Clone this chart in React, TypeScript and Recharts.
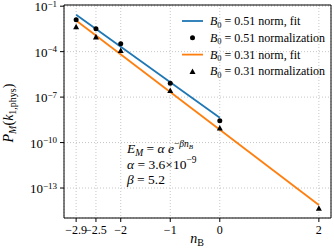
import {
  ComposedChart,
  Line,
  Scatter,
  XAxis,
  YAxis,
  CartesianGrid,
} from "recharts";

// n_B values on the x axis and the values
const xTicks = [-2.9, -2.5, -2, -1, 0, 2];
const yTicks = [1e-1, 1e-4, 1e-7, 1e-10, 1e-13];

const fit051 = [
  { n: -2.9, p: 2.75e-2 },
  { n: 0, p: 4.3e-9 },
];
const fit031 = [
  { n: -2.9, p: 1.15e-2 },
  { n: 2, p: 7.6e-15 },
];
const norm051 = [
  { n: -2.9, p: 1.29e-2 },
  { n: -2.5, p: 3.2e-3 },
  { n: -2, p: 3.3e-4 },
  { n: -1, p: 8.3e-7 },
  { n: 0, p: 2.8e-9 },
];
const norm031 = [
  { n: -2.9, p: 4.4e-3 },
  { n: -2.5, p: 9.5e-4 },
  { n: -2, p: 1.2e-4 },
  { n: -1, p: 2.7e-7 },
  { n: 0, p: 9.3e-10 },
  { n: 2, p: 4.6e-15 },
];

const BLUE = "#1f77b4";
const ORANGE = "#ff7f0e";
const FONT = "'Liberation Serif', 'DejaVu Serif', serif";
const MINUS = "\u2212";

const fmt = (v: number) => (v < 0 ? MINUS + Math.abs(v) : String(v));

const XTick = ({ x, y, payload }: any) => (
  <text x={x} y={y + 10} textAnchor="middle" fontFamily={FONT} fontSize={12} fill="#000">
    {fmt(payload.value)}
  </text>
);

const YTick = ({ x, y, payload }: any) => {
  const e = Math.round(Math.log10(payload.value));
  return (
    <text x={x - 1} y={y + 5} textAnchor="end" fontFamily={FONT} fontSize={13} fill="#000">
      <tspan>10</tspan>
      <tspan dy={-4.5} fontSize={9}>{fmt(e)}</tspan>
    </text>
  );
};

const DotShape = (p: any) => <circle cx={p.cx} cy={p.cy} r={2.5} fill="#000" />;
const TriShape = (p: any) => {
  const s = 3;
  return (
    <polygon
      points={`${p.cx},${p.cy - s} ${p.cx - s},${p.cy + s * 0.85} ${p.cx + s},${p.cy + s * 0.85}`}
      fill="#000"
    />
  );
};

const legendRows = [
  { kind: "line", color: BLUE, b: "0.51", label: " norm, fit" },
  { kind: "dot", color: "#000", b: "0.51", label: " normalization" },
  { kind: "line", color: ORANGE, b: "0.31", label: " norm, fit" },
  { kind: "tri", color: "#000", b: "0.31", label: " normalization" },
];

export default function App() {
  return (
    <div style={{ position: "absolute", left: 0, top: 0, width: 334, height: 250, background: "#fff" }}>
      <ComposedChart width={334} height={250} margin={{ top: 4, right: 2, bottom: 0, left: 0 }}>
        <CartesianGrid stroke="#b8b8b8" strokeDasharray="1 2" strokeWidth={0.8} />
        <XAxis
          dataKey="n"
          type="number"
          domain={[-3.145, 2.245]}
          ticks={xTicks}
          interval={0}
          allowDataOverflow
          height={32}
          tickSize={4}
          tick={<XTick />}
          axisLine={{ stroke: "#000", strokeWidth: 1 }}
          tickLine={{ stroke: "#000" }}
        />
        <XAxis
          xAxisId="top"
          orientation="top"
          type="number"
          domain={[-3.145, 2.245]}
          height={1}
          tick={false}
          tickLine={false}
          axisLine={{ stroke: "#000", strokeWidth: 1 }}
        />
        <YAxis
          dataKey="p"
          scale="log"
          domain={[1.05e-15, 1.2e-1]}
          ticks={yTicks}
          interval={0}
          allowDataOverflow
          width={64}
          tickSize={4}
          tick={<YTick />}
          axisLine={{ stroke: "#000", strokeWidth: 1 }}
          tickLine={{ stroke: "#000" }}
        />
        <YAxis
          yAxisId="right"
          orientation="right"
          scale="log"
          domain={[1.05e-15, 1.2e-1]}
          width={1}
          tick={false}
          tickLine={false}
          axisLine={{ stroke: "#000", strokeWidth: 1 }}
        />
        <Line data={fit051} dataKey="p" stroke={BLUE} strokeWidth={1.8} dot={false} isAnimationActive={false} />
        <Scatter data={norm051} dataKey="p" shape={<DotShape />} isAnimationActive={false} />
        <Line data={fit031} dataKey="p" stroke={ORANGE} strokeWidth={1.8} dot={false} isAnimationActive={false} />
        <Scatter data={norm031} dataKey="p" shape={<TriShape />} isAnimationActive={false} />
      </ComposedChart>

      {/* labels, legend and fit text */}
      <svg
        width={334}
        height={250}
        style={{ position: "absolute", left: 0, top: 0, pointerEvents: "none" }}
        fontFamily={FONT}
      >
        <text transform="rotate(-90 13 113)" x={13} y={113} textAnchor="middle" fontSize={14}>
          <tspan fontStyle="italic">P</tspan>
          <tspan dy={3} fontSize={10} fontStyle="italic">M</tspan>
          <tspan dy={-3}>(</tspan>
          <tspan fontStyle="italic">k</tspan>
          <tspan dy={3} fontSize={10}>1,phys</tspan>
          <tspan dy={-3}>)</tspan>
        </text>

        <text x={197} y={243} textAnchor="middle" fontSize={14}>
          <tspan fontStyle="italic">n</tspan>
          <tspan dy={3} fontSize={10}>B</tspan>
        </text>

        {legendRows.map((r, i) => {
          const cy = 21 + i * 16.8;
          return (
            <g key={i}>
              {r.kind === "line" && <line x1={182} x2={203} y1={cy} y2={cy} stroke={r.color} strokeWidth={1.8} />}
              {r.kind === "dot" && <circle cx={192.5} cy={cy} r={2.5} fill="#000" />}
              {r.kind === "tri" && (
                <polygon points={`192.5,${cy - 3} 189.5,${cy + 2.5} 195.5,${cy + 2.5}`} fill="#000" />
              )}
              <text x={210} y={cy + 4} fontSize={12}>
                <tspan fontStyle="italic">B</tspan>
                <tspan dy={2.5} fontSize={8.5}>0</tspan>
                <tspan dy={-2.5}>{" = " + r.b + r.label}</tspan>
              </text>
            </g>
          );
        })}

        <text x={127} y={153} fontSize={13.5}>
          <tspan fontStyle="italic">E</tspan>
          <tspan dy={3} fontSize={9.5} fontStyle="italic">M</tspan>
          <tspan dy={-3}> = </tspan>
          <tspan fontStyle="italic">α e</tspan>
          <tspan dy={-6} fontSize={9.5}>{MINUS}</tspan>
          <tspan fontSize={9.5} fontStyle="italic">βn</tspan>
          <tspan dy={2} fontSize={7} fontStyle="italic">B</tspan>
        </text>
        <text x={127} y={169} fontSize={13.5}>
          <tspan fontStyle="italic">α</tspan>
          <tspan> = 3.6×10</tspan>
          <tspan dy={-6} fontSize={9.5}>{MINUS}9</tspan>
        </text>
        <text x={127} y={184} fontSize={13.5}>
          <tspan fontStyle="italic">β</tspan>
          <tspan> = 5.2</tspan>
        </text>
      </svg>
    </div>
  );
}
